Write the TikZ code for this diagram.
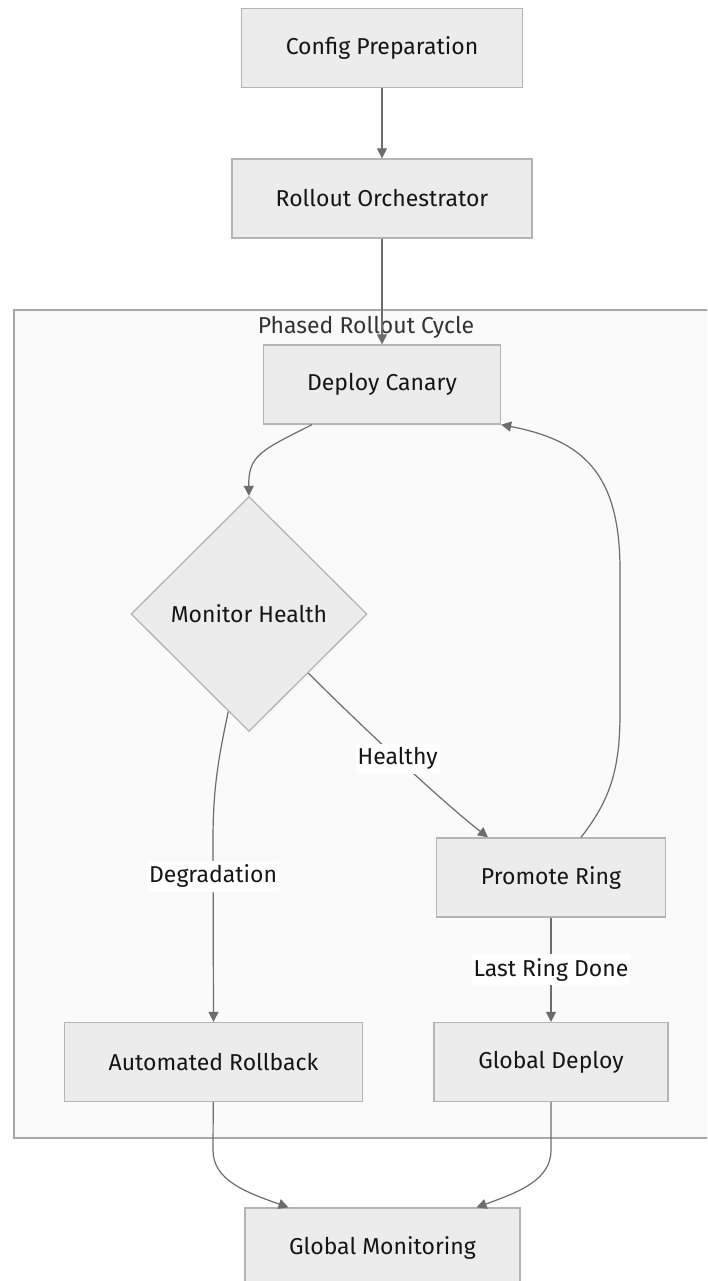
\documentclass[tikz,border=0pt]{standalone}
\usepackage{fontspec}
\setmainfont{Fira Sans}
\usetikzlibrary{arrows.meta,shapes.geometric}

\definecolor{boxfill}{HTML}{ECECEC}
\definecolor{boxline}{HTML}{B4B4B4}
\definecolor{groupfill}{HTML}{FAFAFA}
\definecolor{groupline}{HTML}{A8A8A8}
\definecolor{flow}{HTML}{6C6C6C}
\definecolor{ink}{HTML}{151515}
\definecolor{groupink}{HTML}{333333}

\begin{document}
\begin{tikzpicture}[x=1pt,y=-1pt,->,>={Triangle[length=10pt,width=10pt]},
                    line width=1.2pt,font=\fontsize{23}{27}\selectfont]

  \tikzstyle{block}=[rectangle,draw=boxline,fill=boxfill,text=ink,
                     minimum height=79pt,line width=1.3pt]
  \tikzstyle{check}=[diamond,aspect=1,inner sep=0pt,draw=boxline,fill=boxfill,
                     text=ink,minimum width=236pt,minimum height=235pt,line width=1.3pt]
  \tikzstyle{guard}=[fill=white,text=ink,inner xsep=2pt,inner ysep=4pt]
  \tikzstyle{link}=[draw=flow]

  \clip (0,0) rectangle (707,1281);

  % the rollout loop group
  \draw[-,draw=groupline,fill=groupfill,line width=1.3pt] (14,310) rectangle (720,1138);
  \node[text=groupink] (cycle) at (366,327) {Phased Rollout Cycle};

  \node[block,minimum width=281pt] (prep)     at (382,48)     {Config Preparation};
  \node[block,minimum width=300pt] (orch)     at (382,198.5)  {Rollout Orchestrator};
  \node[block,minimum width=237pt] (canary)   at (382,384.5)  {Deploy Canary};
  \node[check]                     (health)   at (249,614)    {Monitor Health};
  \node[block,minimum width=229pt] (promote)  at (551,877.5)  {Promote Ring};
  \node[block,minimum width=298pt] (rollback) at (213.5,1062) {Automated Rollback};
  \node[block,minimum width=234pt] (global)   at (551,1062)   {Global Deploy};
  \node[block,minimum width=275pt] (monitor)  at (382.5,1247.5) {Global Monitoring};

  \draw[link] (prep) -- (orch);
  \draw[link] (orch) -- (canary);
  \draw[link] ([xshift=-70pt]canary.south) .. controls (262,450) and (248,455) .. (health.north);

  \draw[link] (health.south east) .. controls (355,720) and (440,800) .. ([xshift=-63pt]promote.north)
        node[guard,pos=0.5] {Healthy};
  \draw[link] (health.-102) .. controls (218,760) and (213,790) .. (213,840) -- (rollback.north)
        node[guard,pos=0.2] {Degradation};
  \draw[link] (promote) -- (global) node[guard,midway] {Last Ring Done};

  % next ring goes back to the canary step
  \draw[link] ([xshift=30pt]promote.north) .. controls (610,800) and (620,770) .. (620,713)
        -- (620,570) .. controls (620,470) and (580,440) .. (canary.south east);

  \draw[link] (rollback) -- (213,1150) .. controls (213,1180) and (245,1192) .. ([xshift=-94pt]monitor.north);
  \draw[link] (global) -- (551,1150) .. controls (551,1180) and (519,1192) .. ([xshift=94pt]monitor.north);
\end{tikzpicture}
\end{document}
